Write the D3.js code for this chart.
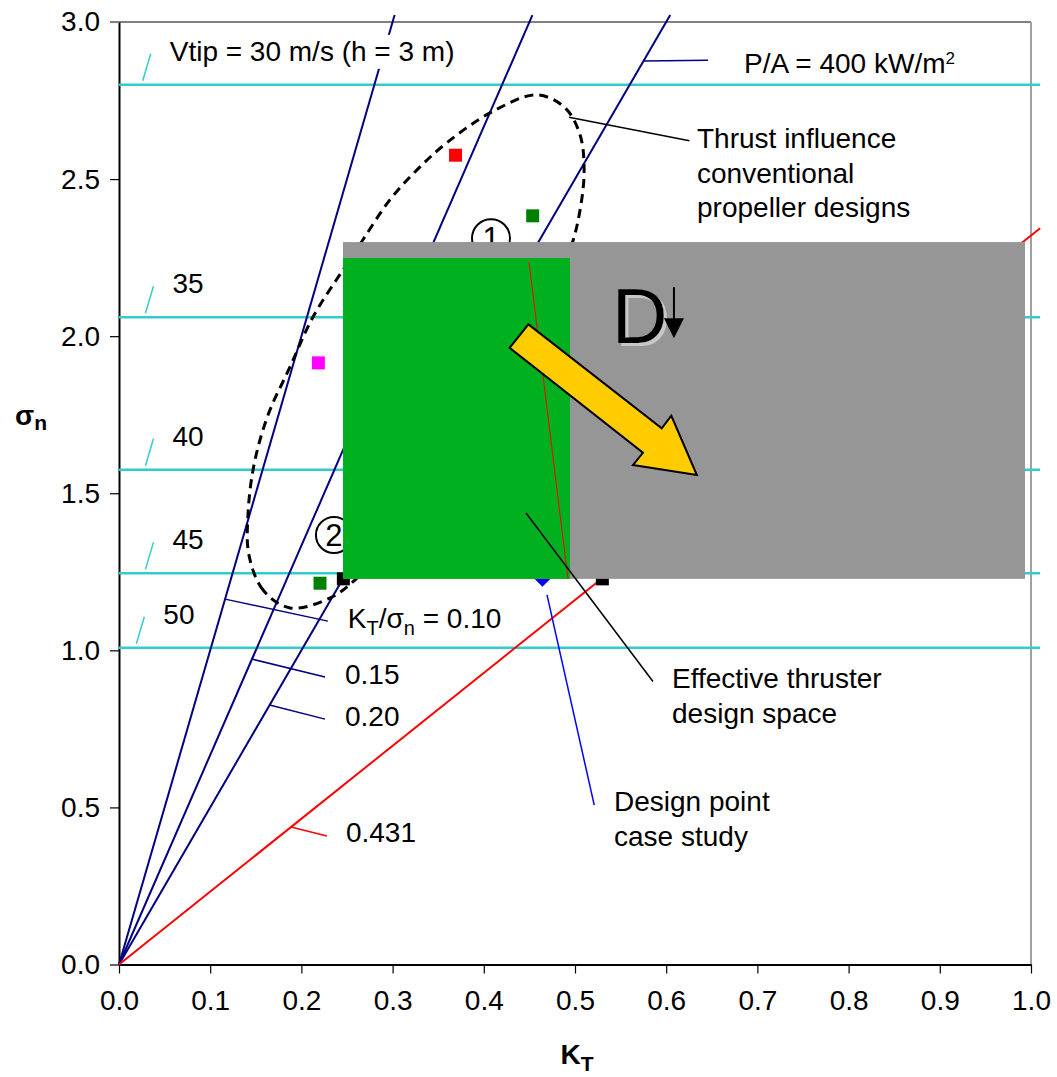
<!DOCTYPE html>
<html><head><meta charset="utf-8">
<script src="https://cdn.jsdelivr.net/npm/d3@7"></script>
<style>
html,body{margin:0;padding:0;background:#fff;}
svg{display:block;font-family:"Liberation Sans",Arial,sans-serif;}
</style></head>
<body><svg id="chart" width="1057" height="1077"></svg>
<script>
// axis ticks
const ktTicks = [0, 0.1, 0.2, 0.3, 0.4, 0.5, 0.6, 0.7, 0.8, 0.9, 1.0];
const sigmaTicks = [0, 0.5, 1.0, 1.5, 2.0, 2.5, 3.0];

// tip-speed iso-lines (cavitation number at h = 3 m)
const vtipSpeeds = [30, 35, 40, 45, 50];
const vtipSigma = [2.80, 2.06, 1.575, 1.245, 1.008];
const vtipLabels = ["Vtip = 30 m/s (h = 3 m)", "35", "40", "45", "50"];

// loading rays KT / sigma_n
const loadRatios = [0.10, 0.15, 0.20];
const loadLabels = ["0.10", "0.15", "0.20"];
const limitRatio = 0.431;
const limitLabel = "0.431";

// conventional propeller designs
const propKT = [0.369, 0.4536, 0.2186, 0.2204];
const propSigma = [2.576, 2.383, 1.915, 1.2137];
const propColor = ["#ff0000", "#008000", "#ff00ff", "#008000"];

// thruster designs and the case-study design point
const thrusterKT = [0.246, 0.530];
const thrusterSigma = [1.2275, 1.2275];
const designKT = [0.4643];
const designSigma = [1.2275];

// outline of the conventional propeller cloud
const regionKT = [0.1875, 0.158, 0.1425, 0.1414, 0.148, 0.1634, 0.1875, 0.2127, 0.2456, 0.2675, 0.297, 0.327, 0.3596, 0.409, 0.458, 0.489, 0.5055, 0.51, 0.5055, 0.4945, 0.451, 0.385, 0.308, 0.261, 0.231];
const regionSigma = [1.135, 1.192, 1.303, 1.430, 1.590, 1.749, 1.902, 2.061, 2.211, 2.307, 2.434, 2.530, 2.616, 2.714, 2.768, 2.727, 2.641, 2.530, 2.401, 2.274, 1.988, 1.638, 1.383, 1.230, 1.166];

// design-space boxes
const spaceKT = [0.2456, 0.9934];
const spaceSigma = [1.2275, 2.2995];
const effectiveKT = [0.2456, 0.4945];
const effectiveSigma = [1.2275, 2.2486];

// trend arrow outline (KT, sigma)
const arrowKT = [0.4489, 0.5951, 0.6056, 0.6336, 0.5636, 0.5745, 0.4283];
const arrowSigma = [2.0375, 1.7066, 1.7467, 1.5579, 1.5897, 1.6289, 1.9631];

const svg = d3.select("#chart");
const x = d3.scaleLinear().domain([0, 1]).range([119, 1031]);
const y = d3.scaleLinear().domain([0, 3]).range([964.5, 22]);
const FS = 28;

const NAVY = "#000080", CYAN = "#33cccc", RED = "#ff0000";

// soft drop shadow for the large "D"
const f = svg.append("defs").append("filter").attr("id", "dshadow")
  .attr("x", "-10%").attr("y", "-10%").attr("width", "130%").attr("height", "130%");
f.append("feFlood").attr("flood-color", "#c8c8c8").attr("result", "c");
f.append("feComposite").attr("in", "c").attr("in2", "SourceAlpha").attr("operator", "in").attr("result", "s");
f.append("feOffset").attr("in", "s").attr("dx", 3).attr("dy", 3).attr("result", "o");
const fm = f.append("feMerge");
fm.append("feMergeNode").attr("in", "o");
fm.append("feMergeNode").attr("in", "SourceGraphic");

// frame
svg.append("line").attr("x1", 110).attr("x2", x(1)).attr("y1", y(3)).attr("y2", y(3))
  .attr("stroke", "#808080").attr("stroke-width", 2);
svg.append("line").attr("x1", x(1)).attr("x2", x(1)).attr("y1", y(3)).attr("y2", y(0))
  .attr("stroke", "#a0a0a0").attr("stroke-width", 2);

// axes
const gx = svg.append("g").attr("transform", `translate(0,${y(0)})`)
  .call(d3.axisBottom(x).tickValues(ktTicks).tickFormat(d3.format(".1f")).tickSize(9).tickSizeOuter(0).tickPadding(17));
const gy = svg.append("g").attr("transform", `translate(${x(0)},0)`)
  .call(d3.axisLeft(y).tickValues(sigmaTicks).tickFormat(d3.format(".1f")).tickSize(9).tickSizeOuter(0).tickPadding(10));
[gx, gy].forEach(g => {
  g.selectAll("text").attr("font-size", FS).attr("fill", "#000").attr("font-family", "'Liberation Sans',Arial,sans-serif");
  g.selectAll("line").attr("stroke", "#000").attr("stroke-width", 1.2);
  g.select(".domain").attr("stroke", "#000").attr("stroke-width", 2);
});
gy.selectAll(".tick").filter(d => d === 3).select("line").attr("stroke", "#808080");

// axis titles
const yt = svg.append("text").attr("x", 15).attr("y", 425).attr("font-weight", "bold").attr("font-size", FS);
yt.append("tspan").text("σ");
yt.append("tspan").attr("font-size", 21).attr("dy", 5).text("n");
const xt = svg.append("text").attr("x", x(0.5) + 2).attr("y", 1064).attr("font-weight", "bold")
  .attr("font-size", FS).attr("text-anchor", "middle");
xt.append("tspan").text("K");
xt.append("tspan").attr("font-size", 21).attr("dy", 7).text("T");

// tip-speed lines
const vtipTagKT = [0.026, 0.029, 0.029, 0.029, 0.019];
vtipSigma.forEach((s, i) => {
  svg.append("line").attr("x1", x(0)).attr("x2", x(1.01)).attr("y1", y(s)).attr("y2", y(s))
    .attr("stroke", CYAN).attr("stroke-width", 2.5);
});

// loading rays from the origin
const sigTop = 3.022;
loadRatios.forEach(r => {
  svg.append("line").attr("x1", x(0)).attr("y1", y(0)).attr("x2", x(r * sigTop)).attr("y2", y(sigTop))
    .attr("stroke", NAVY).attr("stroke-width", 2);
});
svg.append("line").attr("x1", x(0)).attr("y1", y(0)).attr("x2", x(1.01)).attr("y2", y(1.01 / limitRatio))
  .attr("stroke", RED).attr("stroke-width", 2);

// Vtip labels with their tags
vtipSigma.forEach((s, i) => {
  const tx = x(vtipTagKT[i]);
  svg.append("line").attr("x1", tx).attr("y1", y(s) - 4).attr("x2", tx + 8).attr("y2", y(s) - 31)
    .attr("stroke", CYAN).attr("stroke-width", 1.5);
  const t = svg.append("text").attr("x", tx + 27).attr("y", y(s) - 24).attr("font-size", FS).text(vtipLabels[i]);
  if (i === 0) {
    const b = t.node().getBBox();
    svg.insert("rect", () => t.node()).attr("x", b.x - 4).attr("y", b.y - 1).attr("width", b.width + 8)
      .attr("height", b.height + 3).attr("fill", "#fff");
  }
});

// propeller cloud outline
const outline = regionKT.map((k, i) => [k, regionSigma[i]]);
svg.append("path").attr("d", d3.line().x(d => x(d[0])).y(d => y(d[1])).curve(d3.curveCatmullRomClosed.alpha(0.5))(outline))
  .attr("fill", "none").attr("stroke", "#000").attr("stroke-width", 3).attr("stroke-dasharray", "9,6");

// markers
const SQ = 13;
propKT.forEach((k, i) => {
  svg.append("rect").attr("x", x(k) - SQ / 2).attr("y", y(propSigma[i]) - SQ / 2).attr("width", SQ).attr("height", SQ)
    .attr("fill", propColor[i]);
});
thrusterKT.forEach((k, i) => {
  svg.append("rect").attr("x", x(k) - SQ / 2).attr("y", y(thrusterSigma[i]) - SQ / 2).attr("width", SQ).attr("height", SQ)
    .attr("fill", "#000");
});
designKT.forEach((k, i) => {
  svg.append("path").attr("transform", `translate(${x(k)},${y(designSigma[i])})`)
    .attr("d", "M0,-8L8,0L0,8L-8,0Z").attr("fill", "#0000ff");
});

// numbered groups
[[0.4079, 2.312, "1", 19], [0.2357, 1.367, "2", 18]].forEach(([k, s, n, r]) => {
  svg.append("circle").attr("cx", x(k)).attr("cy", y(s)).attr("r", r)
    .attr("fill", "none").attr("stroke", "#000").attr("stroke-width", 2);
  svg.append("text").attr("x", x(k)).attr("y", y(s) + 11).attr("text-anchor", "middle")
    .attr("font-size", 31).text(n);
});

// design-space boxes
svg.append("rect").attr("x", x(spaceKT[0])).attr("y", y(spaceSigma[1]))
  .attr("width", x(spaceKT[1]) - x(spaceKT[0])).attr("height", y(spaceSigma[0]) - y(spaceSigma[1]))
  .attr("fill", "#969696");
svg.append("rect").attr("x", x(effectiveKT[0])).attr("y", y(effectiveSigma[1]))
  .attr("width", x(effectiveKT[1]) - x(effectiveKT[0])).attr("height", y(effectiveSigma[0]) - y(effectiveSigma[1]))
  .attr("fill", "#00b01e");
svg.append("line").attr("x1", x(0.4496)).attr("y1", y(2.236)).attr("x2", x(0.4923)).attr("y2", y(1.2277))
  .attr("stroke", RED).attr("stroke-width", 1);

// trend arrow
svg.append("path").attr("d", d3.line().x(d => x(d[0])).y(d => y(d[1]))(arrowKT.map((k, i) => [k, arrowSigma[i]])) + "Z")
  .attr("fill", "#ffcc00").attr("stroke", "#000").attr("stroke-width", 2).attr("stroke-linejoin", "miter");

// "D" with falling arrow
svg.append("text").attr("x", x(0.5406)).attr("y", y(1.978)).attr("font-size", 77).attr("fill", "#000")
  .attr("filter", "url(#dshadow)").text("D");
const ax = x(0.6085), ay = y(2.156);
svg.append("line").attr("x1", ax).attr("x2", ax).attr("y1", ay).attr("y2", ay + 33).attr("stroke", "#000").attr("stroke-width", 2);
svg.append("path").attr("d", `M${ax - 10},${ay + 31}L${ax + 10},${ay + 31}L${ax},${ay + 51}Z`).attr("fill", "#000");

// ray labels
function leader(k1, s1, k2, s2, color) {
  svg.append("line").attr("x1", x(k1)).attr("y1", y(s1)).attr("x2", x(k2)).attr("y2", y(s2))
    .attr("stroke", color).attr("stroke-width", 1.5);
}
const rayTag = [[1.163, 0.229, 1.093], [0.972, 0.2259, 0.915], [0.826, 0.2259, 0.781]];
loadRatios.forEach((r, i) => {
  const [s0, k2, s2] = rayTag[i];
  leader(r * s0, s0, k2, s2, NAVY);
  const t = svg.append("text").attr("x", x(k2) + 20).attr("y", y(s2) + 7).attr("font-size", FS);
  if (i === 0) {
    t.append("tspan").text("K");
    t.append("tspan").attr("font-size", 20).attr("dy", 7).text("T");
    t.append("tspan").attr("dy", -7).text("/σ");
    t.append("tspan").attr("font-size", 20).attr("dy", 7).text("n");
    t.append("tspan").attr("dy", -7).text(" = " + loadLabels[i]);
  } else {
    t.text(loadLabels[i]);
  }
});
leader(limitRatio * 0.4376, 0.4376, 0.228, 0.409, RED);
svg.append("text").attr("x", x(0.228) + 19).attr("y", y(0.409) + 6).attr("font-size", FS).text(limitLabel);

// power density label on the 0.20 ray
leader(0.20 * 2.876, 2.876, 0.6458, 2.878, NAVY);
const pa = svg.append("text").attr("x", x(0.6458) + 36).attr("y", y(2.878) + 13).attr("font-size", FS);
pa.append("tspan").text("P/A = 400 kW/m");
pa.append("tspan").attr("font-size", 17).attr("dy", -9).text("2");

// callouts
function callout(lines, px, py) {
  const t = svg.append("text").attr("font-size", FS);
  lines.forEach((l, i) => t.append("tspan").attr("x", px).attr("y", py + i * 34.5).text(l));
}
leader(0.4934, 2.697, 0.6255, 2.622, "#000");
callout(["Thrust influence", "conventional", "propeller designs"], x(0.6338), y(2.598));
leader(0.4463, 1.437, 0.5855, 0.9008, "#000");
callout(["Effective thruster", "design space"], x(0.6064), y(0.880));
leader(0.4693, 1.1763, 0.5211, 0.5075, "#0000ff");
callout(["Design point", "case study"], x(0.5428), y(0.4884));
</script>
</body></html>
